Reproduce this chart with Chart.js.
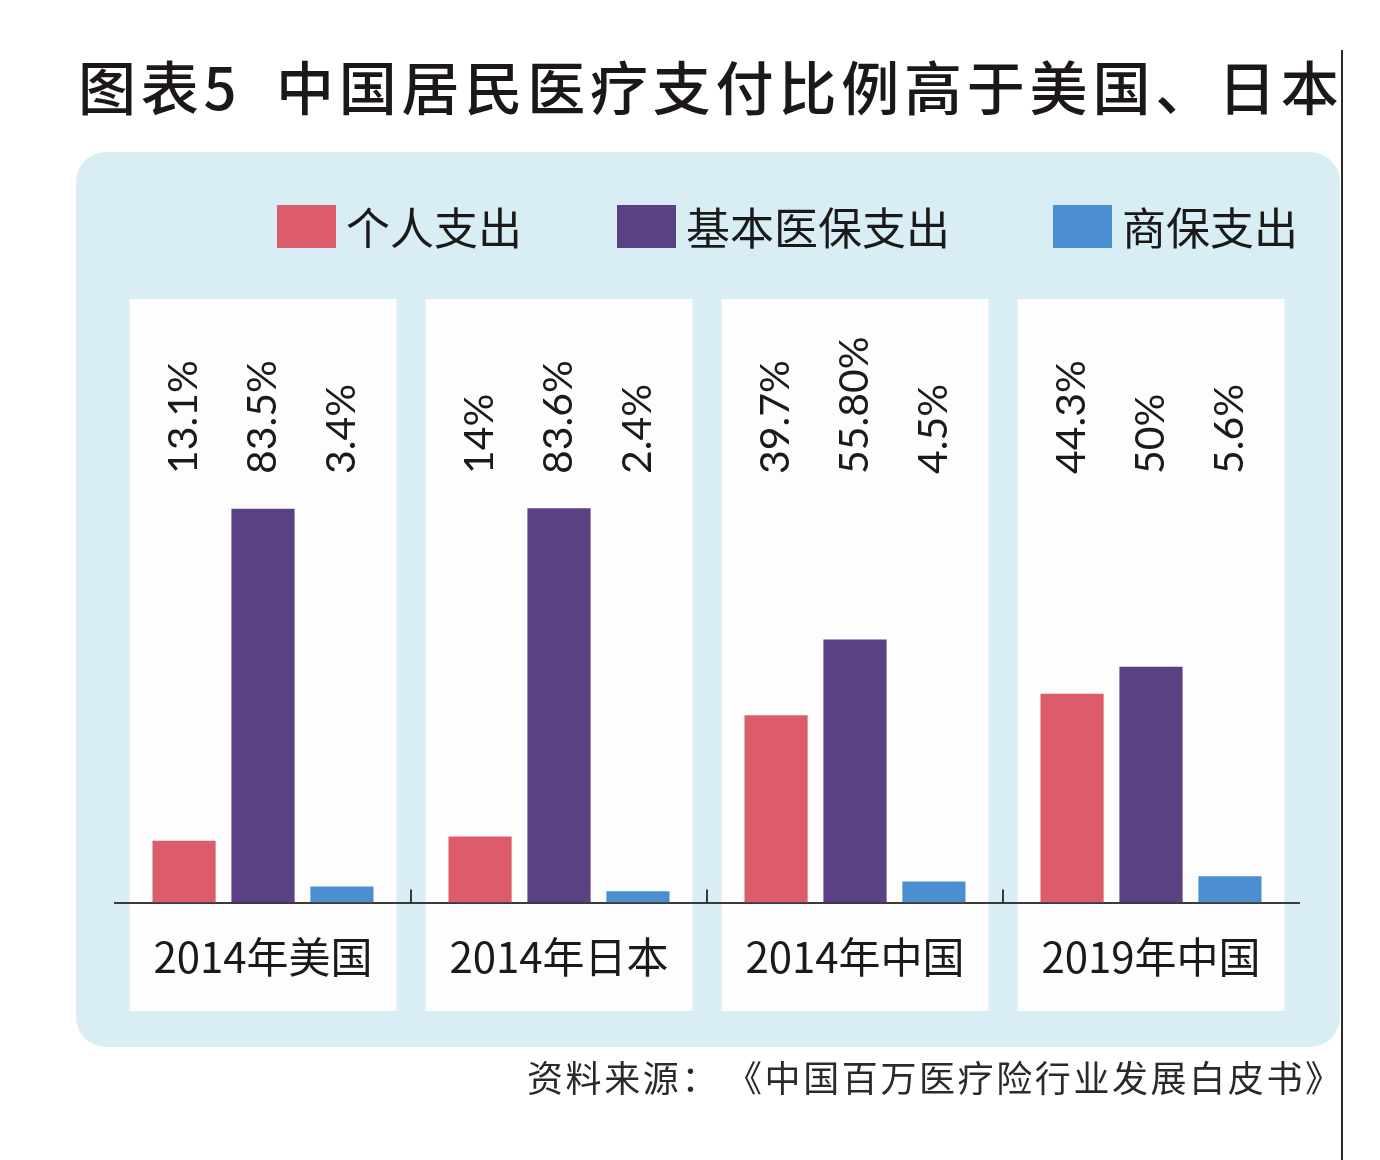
<!DOCTYPE html>
<html><head><meta charset="utf-8">
<script src="https://cdn.jsdelivr.net/npm/chart.js@4"></script>
<style>
html,body{margin:0;padding:0;background:#fff;width:1380px;height:1160px;overflow:hidden;}
#wrap{position:relative;width:1380px;height:1160px;}
canvas{position:absolute;left:0;top:0;}
.t{position:absolute;top:56px;font-family:"Noto Sans CJK SC";font-size:58px;line-height:58px;letter-spacing:4.8px;color:#1c1818;white-space:nowrap;font-weight:500;}
.src{position:absolute;left:527px;top:1056px;font-family:"Noto Sans CJK SC";font-size:36px;line-height:40px;letter-spacing:2.6px;color:#2a2a2a;white-space:nowrap;}
.vline{position:absolute;left:1341px;top:50px;width:2px;height:1110px;background:#2a2a2a;}
</style></head>
<body><div id="wrap">
<canvas id="c" width="1380" height="1160"></canvas>
<div class="t" style="left:78px">图表5</div>
<div class="t" style="left:276px">中国居民医疗支付比例高于美国、日本</div>
<div class="src">资料来源：<span style="margin-left:24px">《中国百万医疗险行业发展白皮书》</span></div>
<div class="vline"></div>
</div>
<script>
const categories = ['2014年美国', '2014年日本', '2014年中国', '2019年中国'];
const seriesNames = ['个人支出', '基本医保支出', '商保支出'];
const personal = [13.1, 14, 39.7, 44.3];
const basic = [83.5, 83.6, 55.8, 50];
const commercial = [3.4, 2.4, 4.5, 5.6];
const personalLabels = ['13.1%', '14%', '39.7%', '44.3%'];
const basicLabels = ['83.5%', '83.6%', '55.80%', '50%'];
const commercialLabels = ['3.4%', '2.4%', '4.5%', '5.6%'];
const seriesColors = ['#dd5c6c', '#5b4083', '#4b8fd0'];

const valueLabels = [personalLabels, basicLabels, commercialLabels];
const CJK = '"Noto Sans CJK SC", "Noto Sans", sans-serif';

const bgPlugin = {
  id: 'bgPanels',
  beforeDraw(chart) {
    const ctx = chart.ctx, xs = chart.scales.x;
    ctx.save();
    ctx.fillStyle = '#d9edf4';
    ctx.beginPath();
    ctx.roundRect(76, 152, 1264, 895, 30);
    ctx.fill();
    const cw = xs.getPixelForValue(1) - xs.getPixelForValue(0);
    ctx.fillStyle = '#fdfdfd';
    for (let i = 0; i < categories.length; i++) {
      const cx = xs.getPixelForValue(i);
      ctx.fillRect(cx - 0.451 * cw, 299, 0.902 * cw, 712);
    }
    ctx.restore();
  }
};

const tickPlugin = {
  id: 'upTicks',
  afterDatasetsDraw(chart) {
    const ctx = chart.ctx, xs = chart.scales.x, b = chart.chartArea.bottom;
    ctx.save();
    ctx.strokeStyle = '#3a3a3a';
    ctx.lineWidth = 2;
    for (let i = 0; i < categories.length - 1; i++) {
      const bx = (xs.getPixelForValue(i) + xs.getPixelForValue(i + 1)) / 2;
      ctx.beginPath();
      ctx.moveTo(bx, b);
      ctx.lineTo(bx, b - 13);
      ctx.stroke();
    }
    ctx.restore();
  }
};

const labelPlugin = {
  id: 'vertLabels',
  afterDatasetsDraw(chart) {
    const ctx = chart.ctx;
    ctx.save();
    ctx.fillStyle = '#1a1a1a';
    ctx.font = '400 41px Lato, "Noto Sans", sans-serif';
    ctx.textAlign = 'left';
    ctx.textBaseline = 'middle';
    chart.data.datasets.forEach((ds, d) => {
      chart.getDatasetMeta(d).data.forEach((bar, i) => {
        ctx.save();
        ctx.translate(bar.x, 474);
        ctx.rotate(-Math.PI / 2);
        ctx.fillText(valueLabels[d][i], 0, 0);
        ctx.restore();
      });
    });
    ctx.restore();
  }
};

const legendPlugin = {
  id: 'legendBoxes',
  afterDraw(chart) {
    const ctx = chart.ctx;
    const xs = [277, 617, 1053];
    ctx.save();
    ctx.font = '44px ' + CJK;
    ctx.textAlign = 'left';
    ctx.textBaseline = 'middle';
    chart.data.datasets.forEach((ds, i) => {
      ctx.fillStyle = ds.backgroundColor;
      ctx.fillRect(xs[i], 205, 59, 43);
      ctx.fillStyle = '#1a1a1a';
      ctx.fillText(ds.label, xs[i] + 69, 228);
    });
    ctx.restore();
  }
};

function draw() {
  new Chart(document.getElementById('c'), {
    type: 'bar',
    data: {
      labels: categories,
      datasets: [
        { label: seriesNames[0], data: personal, backgroundColor: seriesColors[0] },
        { label: seriesNames[1], data: basic, backgroundColor: seriesColors[1] },
        { label: seriesNames[2], data: commercial, backgroundColor: seriesColors[2] }
      ]
    },
    options: {
      responsive: false,
      animation: false,
      devicePixelRatio: 1,
      datasets: { bar: { barPercentage: 0.8, categoryPercentage: 0.8 } },
      layout: { padding: { left: 115, right: 81, top: 431, bottom: 149 } },
      plugins: { legend: { display: false }, tooltip: { enabled: false }, title: { display: false } },
      scales: {
        x: {
          grid: { display: false, drawTicks: false },
          border: { display: true, color: '#3a3a3a', width: 2 },
          ticks: { color: '#1a1a1a', font: { family: CJK, size: 42 }, padding: 29, maxRotation: 0, autoSkip: false }
        },
        y: { display: false, min: 0, max: 100 }
      }
    },
    plugins: [bgPlugin, tickPlugin, labelPlugin, legendPlugin]
  });
}
Promise.all([
  document.fonts.load('42px "Noto Sans CJK SC"'),
  document.fonts.load('41px Lato')
]).then(draw, draw);
</script>
</body></html>
